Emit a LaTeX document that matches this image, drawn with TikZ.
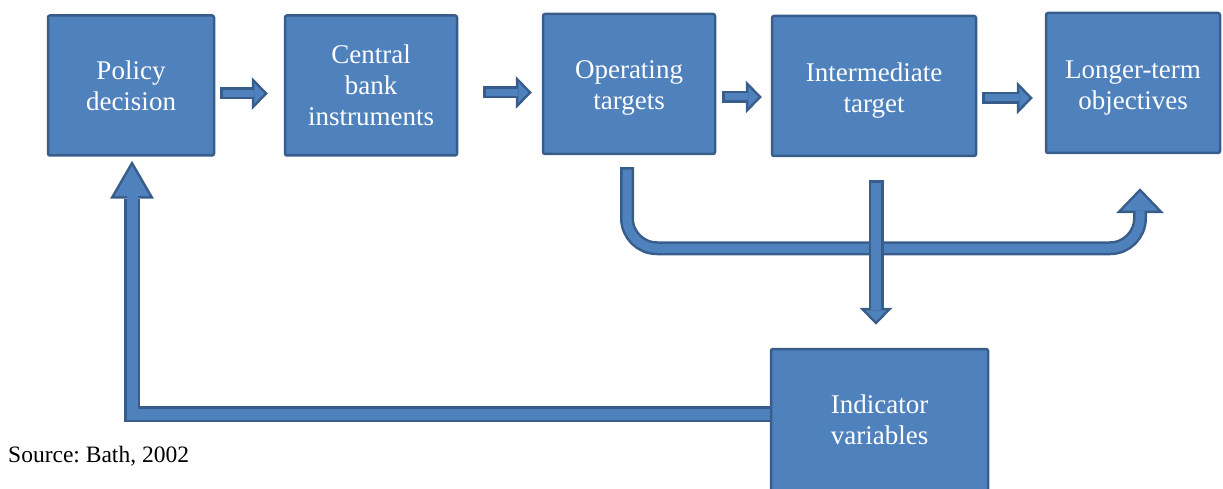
\documentclass[tikz,border=0pt]{standalone}
\usepackage{fontspec}
\setmainfont{Liberation Serif}
\usetikzlibrary{arrows.meta,backgrounds,calc}

\definecolor{boxfill}{HTML}{4F81BD}
\definecolor{boxline}{HTML}{385D8A}

\begin{document}
\begin{tikzpicture}[x=1pt,y=-1pt,
    box/.style={draw=boxline,fill=boxfill,line width=2.5pt,rounded corners=2pt,
      text=white,align=center,inner sep=0pt,minimum height=140pt,
      font=\fontsize{27}{31}\selectfont},
    % block arrows: a wide dark pass, then a narrower light pass on top
    stepout/.style={draw=boxline,line width=12pt,
      -{Triangle[width=33pt,length=16pt,line width=0pt]}},
    stepin/.style={draw=boxfill,line width=7pt,shorten <=2.5pt,shorten >=3.5pt,
      -{Triangle[width=20.6pt,length=10pt,line width=0pt]}},
    downout/.style={draw=boxline,line width=15pt,
      -{Triangle[width=33pt,length=17pt,line width=0pt]}},
    downin/.style={draw=boxfill,line width=10pt,shorten <=2.5pt,shorten >=3.6pt,
      -{Triangle[width=21.2pt,length=10.9pt,line width=0pt]}},
    bendout/.style={draw=boxline,line width=14pt,rounded corners=30pt,
      -{Triangle[width=48pt,length=25pt,line width=0pt]}},
    bendin/.style={draw=boxfill,line width=9pt,rounded corners=30pt,
      shorten <=2.5pt,shorten >=3.6pt,
      -{Triangle[width=36.3pt,length=18.9pt,line width=0pt]}},
    backout/.style={draw=boxline,line width=16pt,
      -{Triangle[width=44pt,length=38pt,line width=0pt]}},
    backin/.style={draw=boxfill,line width=11pt,shorten >=5pt,
      -{Triangle[width=35.3pt,length=30.5pt,line width=0pt]}}]

  \useasboundingbox (0,0) rectangle (1223,489);

  % the six boxes (the struts push two-line texts a little lower)
  \node[box,minimum width=166pt] (pol) at (131,85.5) {Policy\\decision};
  \node[box,minimum width=172pt] (cbi) at (371,85.5) {Central\\bank\\instruments};
  \node[box,minimum width=172pt] (ops) at (629,84) {\rule{0pt}{26pt}Operating\\targets};
  \node[box,minimum width=204pt] (imt) at (874,86) {\rule{0pt}{27pt}Intermediate\\target};
  \node[box,minimum width=174pt] (lto) at (1133,83) {\rule{0pt}{27pt}Longer-term\\objectives};
  \node[box,minimum width=217pt,minimum height=142pt] (ind) at (879.5,420) {Indicator\\variables};

  \node[anchor=base west,inner sep=0pt,font=\fontsize{23.5}{28}\selectfont\frenchspacing]
    (src) at (8,462) {Source: Bath, 2002};

  \begin{scope}[on background layer]
    % arrows along the top row
    \foreach \a/\b/\s/\e/\dy in {pol/cbi/5/16/8,cbi/ops/25/10/7,ops/imt/6/9/13,imt/lto/5/12/12}{
      \draw[stepout] ($(\a.east)+(\s,\dy)$) -- ($(\a.east -| \b.west)+(-\e,\dy)$);
      \draw[stepin] ($(\a.east)+(\s,\dy)$) -- ($(\a.east -| \b.west)+(-\e,\dy)$);
    }

    % operating targets round to the objectives
    \coordinate (opsout) at ($(ops.south)+(-2,12)$);
    \coordinate (ltoin) at ($(lto.south)+(7,34)$);
    \draw[bendout] (opsout) -- ++(0,81) -| (ltoin);
    \draw[bendin] (opsout) -- ++(0,81) -| (ltoin);

    % intermediate target down to the indicators
    \draw[downout] ($(imt.south)+(2,23)$) -- ($(imt.south |- ind.north)+(2,-23)$);
    \draw[downin] ($(imt.south)+(2,23)$) -- ($(imt.south |- ind.north)+(2,-23)$);

    % feedback to the policy decision
    \draw[backout] ($(ind.west)+(0,-6)$) -| ($(pol.south)+(1,4)$);
    \draw[backin] ($(ind.west)+(0,-6)$) -| ($(pol.south)+(1,4)$);
  \end{scope}

\end{tikzpicture}
\end{document}
